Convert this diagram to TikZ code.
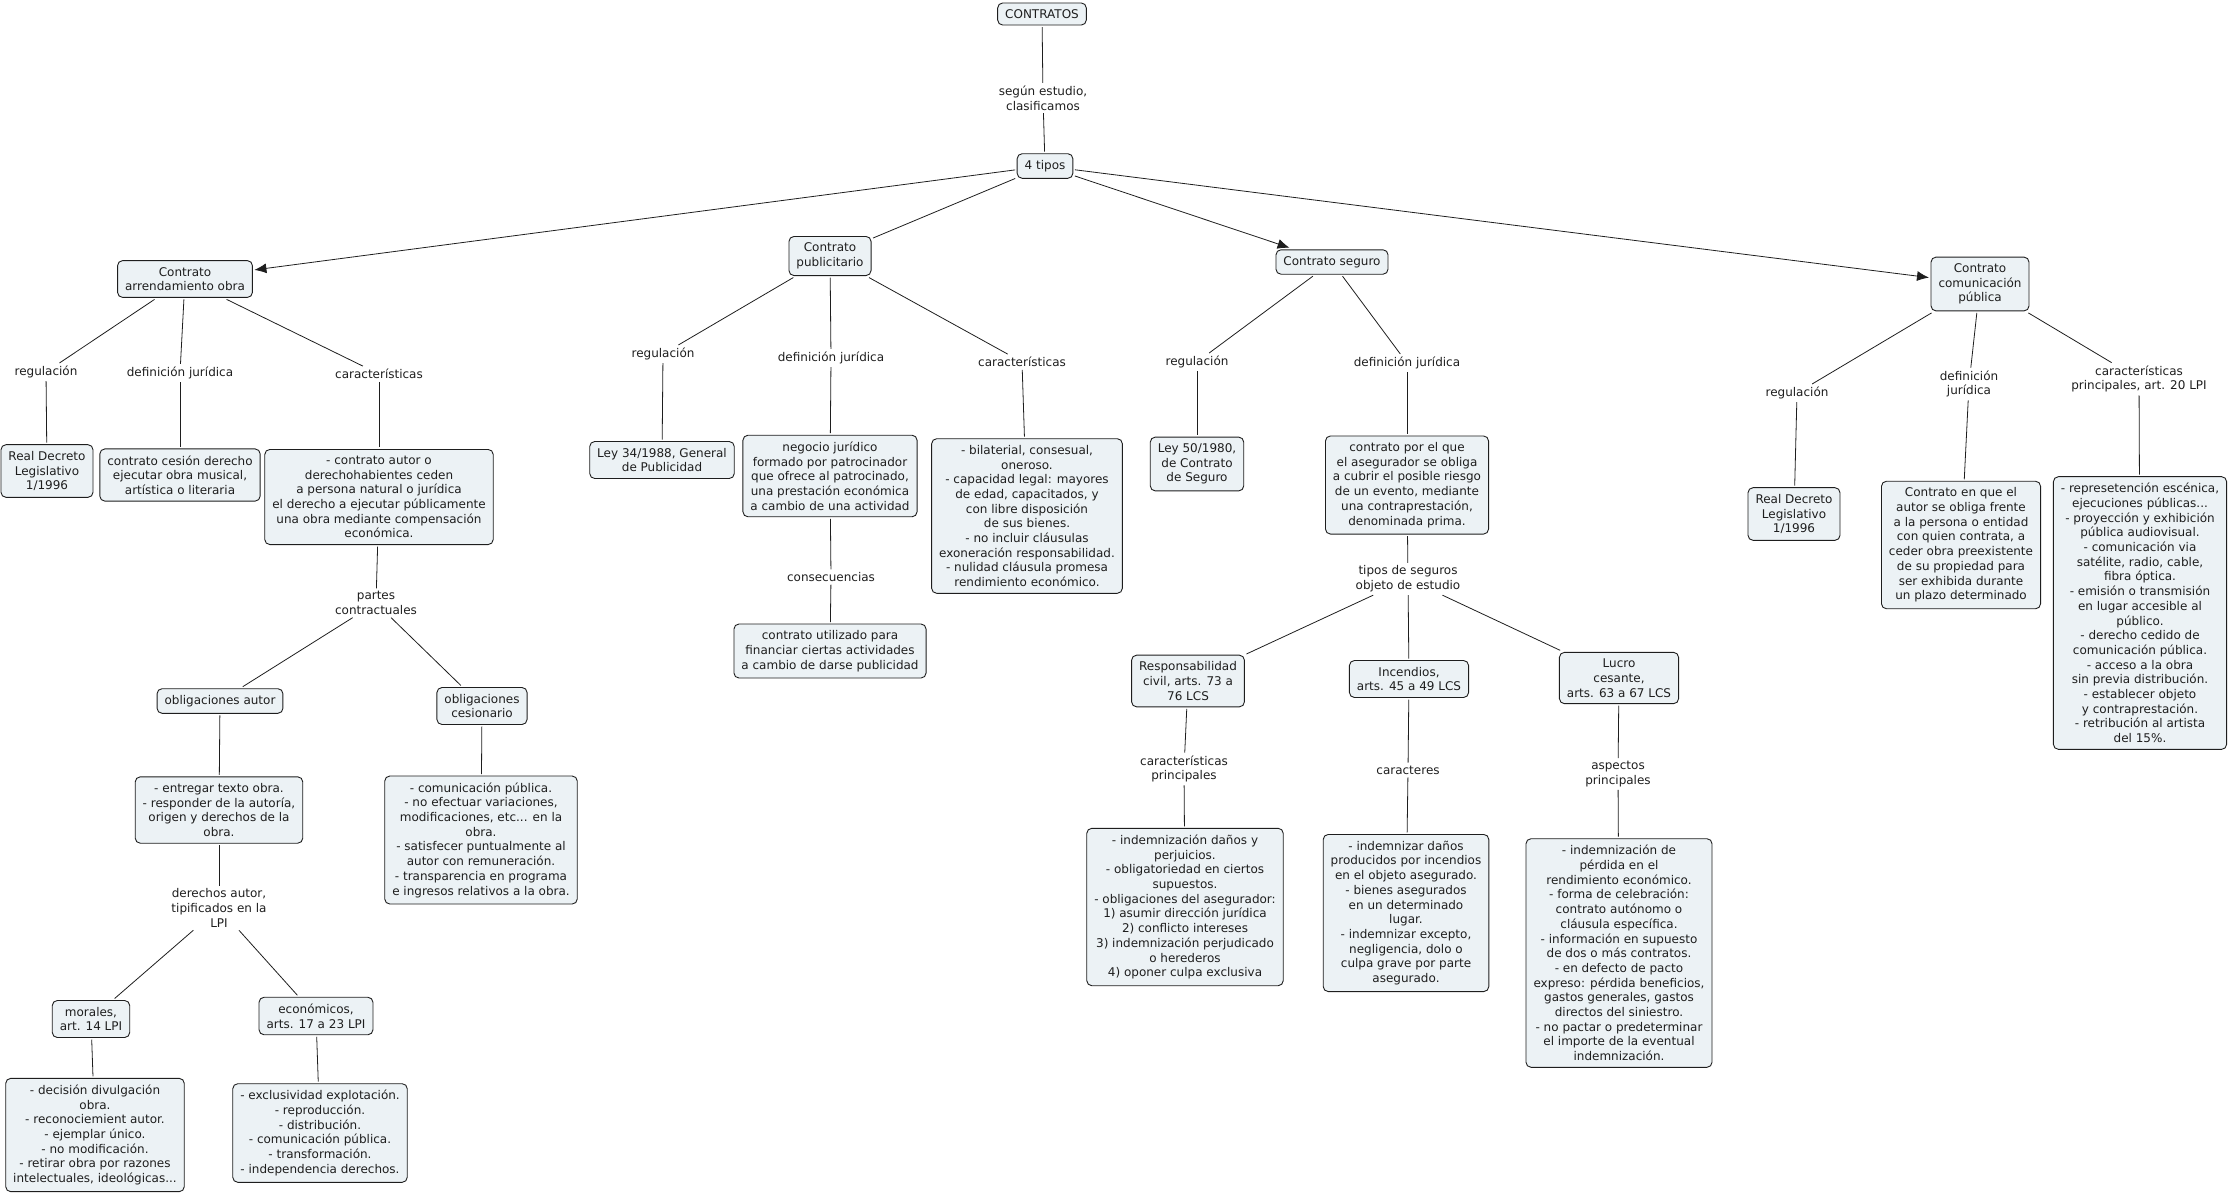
\documentclass[tikz,border=0pt]{standalone}
\usepackage{fontspec}
\setmainfont{DejaVu Sans}
\usetikzlibrary{arrows.meta}
\definecolor{boxfill}{RGB}{236,242,245}
\definecolor{ink}{RGB}{30,30,30}
\begin{document}
\begin{tikzpicture}[x=1pt,y=-1pt,
  cbox/.style={draw=ink, fill=boxfill, rounded corners=5pt, align=center, inner xsep=7.5pt, inner ysep=6.5pt, outer sep=2pt, line width=0.9pt, font=\fontsize{12}{14.7}\selectfont, text=ink},
  lbl/.style={align=center, inner sep=2pt, outer sep=1pt, font=\fontsize{12}{14.7}\selectfont, text=ink},
  con/.style={draw=ink, line width=0.8pt},
  tip/.style={con, -{Latex[length=12pt,width=10pt]}}
]
\useasboundingbox (0,0) rectangle (2230,1195);

% top
\node[cbox] (contratos) at (1042,14) {CONTRATOS};
\node[lbl] (l0) at (1043,98) {según estudio,\\clasificamos};
\node[cbox] (tipos) at (1045,166) {4 tipos};

% main concepts
\node[cbox] (arr) at (185,279) {Contrato\\arrendamiento obra};
\node[cbox] (pub) at (830,256) {Contrato\\publicitario};
\node[cbox] (seg) at (1332,262) {Contrato seguro};
\node[cbox] (com) at (1980,284) {Contrato\\comunicación\\pública};

% arrendamiento branch
\node[lbl] (a1) at (46,372) {regulación};
\node[lbl] (a2) at (180,373) {definición jurídica};
\node[lbl] (a3) at (379,374) {características};
\node[cbox] (arrRD) at (47,471) {Real Decreto\\Legislativo\\1/1996};
\node[cbox] (arrDef) at (180,475) {contrato cesión derecho\\ejecutar obra musical,\\artística o literaria};
\node[cbox] (arrCar) at (379,497) {- contrato autor o\\derechohabientes ceden\\a persona natural o jurídica\\el derecho a ejecutar públicamente\\una obra mediante compensación\\económica.};
\node[lbl] (a4) at (376,603) {partes\\contractuales};
\node[cbox] (oblA) at (220,701) {obligaciones autor};
\node[cbox] (oblC) at (482,706) {obligaciones\\cesionario};
\node[cbox] (oblAbox) at (219,810) {- entregar texto obra.\\- responder de la autoría,\\origen y derechos de la\\obra.};
\node[cbox] (oblCbox) at (481,840) {- comunicación pública.\\- no efectuar variaciones,\\modificaciones, etc... en la\\obra.\\- satisfecer puntualmente al\\autor con remuneración.\\- transparencia en programa\\e ingresos relativos a la obra.};
\node[lbl] (a5) at (219,908) {derechos autor,\\tipificados en la\\LPI};
\node[cbox] (mor) at (91,1019) {morales,\\art. 14 LPI};
\node[cbox] (eco) at (316,1016) {económicos,\\arts. 17 a 23 LPI};
\node[cbox] (morbox) at (95,1135) {- decisión divulgación\\obra.\\- reconociemient autor.\\- ejemplar único.\\- no modificación.\\- retirar obra por razones\\intelectuales, ideológicas...};
\node[cbox] (ecobox) at (320,1133) {- exclusividad explotación.\\- reproducción.\\- distribución.\\- comunicación pública.\\- transformación.\\- independencia derechos.};

% publicitario branch
\node[lbl] (p1) at (663,354) {regulación};
\node[lbl] (p2) at (831,358) {definición jurídica};
\node[lbl] (p3) at (1022,362) {características};
\node[cbox] (ley34) at (662,460) {Ley 34/1988, General\\de Publicidad};
\node[cbox] (negocio) at (830,476) {negocio jurídico\\formado por patrocinador\\que ofrece al patrocinado,\\una prestación económica\\a cambio de una actividad};
\node[cbox] (bilat) at (1027,516) {- bilaterial, consesual,\\oneroso.\\- capacidad legal: mayores\\de edad, capacitados, y\\con libre disposición\\de sus bienes.\\- no incluir cláusulas\\exoneración responsabilidad.\\- nulidad cláusula promesa\\rendimiento económico.};
\node[lbl] (p4) at (831,577) {consecuencias};
\node[cbox] (utiliz) at (830,651) {contrato utilizado para\\financiar ciertas actividades\\a cambio de darse publicidad};

% seguro branch
\node[lbl] (s1) at (1197,362) {regulación};
\node[lbl] (s2) at (1407,363) {definición jurídica};
\node[cbox] (ley50) at (1197,464) {Ley 50/1980,\\de Contrato\\de Seguro};
\node[cbox] (segDef) at (1407,485) {contrato por el que\\el asegurador se obliga\\a cubrir el posible riesgo\\de un evento, mediante\\una contraprestación,\\denominada prima.};
\node[lbl] (s3) at (1408,579) {tipos de seguros\\objeto de estudio};
\node[cbox] (resp) at (1188,681) {Responsabilidad\\civil, arts. 73 a\\76 LCS};
\node[cbox] (inc) at (1409,679) {Incendios,\\arts. 45 a 49 LCS};
\node[cbox] (lucro) at (1619,678) {Lucro\\cesante,\\arts. 63 a 67 LCS};
\node[lbl] (s4) at (1184,769) {características\\principales};
\node[lbl] (s5) at (1408,770) {caracteres};
\node[lbl] (s6) at (1618,774) {aspectos\\principales};
\node[cbox] (respbox) at (1185,907) {- indemnización daños y\\perjuicios.\\- obligatoriedad en ciertos\\supuestos.\\- obligaciones del asegurador:\\1) asumir dirección jurídica\\2) conflicto intereses\\3) indemnización perjudicado\\o herederos\\4) oponer culpa exclusiva};
\node[cbox] (incbox) at (1406,913) {- indemnizar daños\\producidos por incendios\\en el objeto asegurado.\\- bienes asegurados\\en un determinado\\lugar.\\- indemnizar excepto,\\negligencia, dolo o\\culpa grave por parte\\asegurado.};
\node[cbox] (lucrobox) at (1619,953) {- indemnización de\\pérdida en el\\rendimiento económico.\\- forma de celebración:\\contrato autónomo o\\cláusula específica.\\- información en supuesto\\de dos o más contratos.\\- en defecto de pacto\\expreso: pérdida beneficios,\\gastos generales, gastos\\directos del siniestro.\\- no pactar o predeterminar\\el importe de la eventual\\indemnización.};

% comunicacion branch
\node[lbl] (c1) at (1797,393) {regulación};
\node[lbl] (c2) at (1969,384) {definición\\jurídica};
\node[lbl] (c3) at (2139,379) {características\\principales, art. 20 LPI};
\node[cbox] (comRD) at (1794,514) {Real Decreto\\Legislativo\\1/1996};
\node[cbox] (comDef) at (1961,545) {Contrato en que el\\autor se obliga frente\\a la persona o entidad\\con quien contrata, a\\ceder obra preexistente\\de su propiedad para\\ser exhibida durante\\un plazo determinado};
\node[cbox] (comCar) at (2140,613) {- represetención escénica,\\ejecuciones públicas...\\- proyección y exhibición\\pública audiovisual.\\- comunicación via\\satélite, radio, cable,\\fibra óptica.\\- emisión o transmisión\\en lugar accesible al\\público.\\- derecho cedido de\\comunicación pública.\\- acceso a la obra\\sin previa distribución.\\- establecer objeto\\y contraprestación.\\- retribución al artista\\del 15\%.};

% connectors
\draw[con] (contratos) -- (l0);
\draw[con] (l0) -- (tipos);
\draw[tip] (tipos) -- (arr);
\draw[con] (tipos) -- (pub);
\draw[tip] (tipos) -- (seg);
\draw[tip] (tipos) -- (com);

\draw[con] (arr) -- (a1); \draw[con] (a1) -- (arrRD);
\draw[con] (arr) -- (a2); \draw[con] (a2) -- (arrDef);
\draw[con] (arr) -- (a3); \draw[con] (a3) -- (arrCar);
\draw[con] (arrCar) -- (a4);
\draw[con] (a4) -- (oblA); \draw[con] (a4) -- (oblC);
\draw[con] (oblA) -- (oblAbox);
\draw[con] (oblC) -- (oblCbox);
\draw[con] (oblAbox) -- (a5);
\draw[con] (a5) -- (mor); \draw[con] (a5) -- (eco);
\draw[con] (mor) -- (morbox);
\draw[con] (eco) -- (ecobox);

\draw[con] (pub) -- (p1); \draw[con] (p1) -- (ley34);
\draw[con] (pub) -- (p2); \draw[con] (p2) -- (negocio);
\draw[con] (pub) -- (p3); \draw[con] (p3) -- (bilat);
\draw[con] (negocio) -- (p4); \draw[con] (p4) -- (utiliz);

\draw[con] (seg) -- (s1); \draw[con] (s1) -- (ley50);
\draw[con] (seg) -- (s2); \draw[con] (s2) -- (segDef);
\draw[con] (segDef) -- (s3);
\draw[con] (s3) -- (resp); \draw[con] (s3) -- (inc); \draw[con] (s3) -- (lucro);
\draw[con] (resp) -- (s4); \draw[con] (s4) -- (respbox);
\draw[con] (inc) -- (s5); \draw[con] (s5) -- (incbox);
\draw[con] (lucro) -- (s6); \draw[con] (s6) -- (lucrobox);

\draw[con] (com) -- (c1); \draw[con] (c1) -- (comRD);
\draw[con] (com) -- (c2); \draw[con] (c2) -- (comDef);
\draw[con] (com) -- (c3); \draw[con] (c3) -- (comCar);
\end{tikzpicture}
\end{document}
